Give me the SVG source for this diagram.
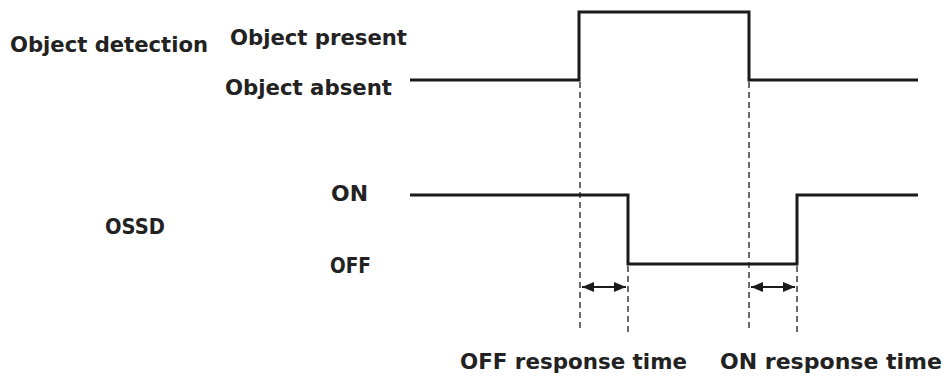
<svg xmlns="http://www.w3.org/2000/svg" width="944" height="380" viewBox="0 0 944 380">
<style>
text{font-family:"DejaVu Sans",Verdana,sans-serif;font-weight:bold;font-size:21px;fill:#222}
.sig{fill:none;stroke:#1a1a1a;stroke-width:3}
.dash{stroke:#1a1a1a;stroke-width:1.3;stroke-dasharray:6,4;fill:none}
.arr{stroke:#1a1a1a;stroke-width:2;fill:none;marker-start:url(#ah);marker-end:url(#ah)}
</style>
<defs>
<marker id="ah" viewBox="0 0 12 10" refX="12" refY="5" markerWidth="6" markerHeight="5" orient="auto-start-reverse" markerUnits="strokeWidth">
<path d="M0,0 L12,5 L0,10 z" fill="#1a1a1a"/>
</marker>
</defs>
<rect width="944" height="380" fill="#fff"/>
<g id="labels">
<text x="10" y="52" textLength="198" lengthAdjust="spacingAndGlyphs">Object detection</text>
<text x="230" y="45" textLength="177" lengthAdjust="spacingAndGlyphs">Object present</text>
<text x="225" y="95" textLength="167" lengthAdjust="spacingAndGlyphs">Object absent</text>
<text x="331" y="201" textLength="37" lengthAdjust="spacingAndGlyphs">ON</text>
<text x="105" y="234" textLength="60" lengthAdjust="spacingAndGlyphs">OSSD</text>
<text x="330" y="273" textLength="41" lengthAdjust="spacingAndGlyphs">OFF</text>
<text x="460" y="369" textLength="227" lengthAdjust="spacingAndGlyphs">OFF response time</text>
<text x="720" y="369" textLength="222" lengthAdjust="spacingAndGlyphs">ON response time</text>
</g>
<g id="connectors">
<polyline class="sig" points="410,80 579,80 579,12 749,12 749,80 918,80"/>
<polyline class="sig" points="410,195 628,195 628,264 797,264 797,195 918,195"/>
<line class="dash" x1="580" y1="82" x2="580" y2="332"/>
<line class="dash" x1="628" y1="266" x2="628" y2="332"/>
<line class="dash" x1="749" y1="82" x2="749" y2="332"/>
<line class="dash" x1="797" y1="266" x2="797" y2="332"/>
<line class="arr" x1="582" y1="287" x2="626" y2="287"/>
<line class="arr" x1="751" y1="287" x2="795" y2="287"/>
</g>
</svg>
